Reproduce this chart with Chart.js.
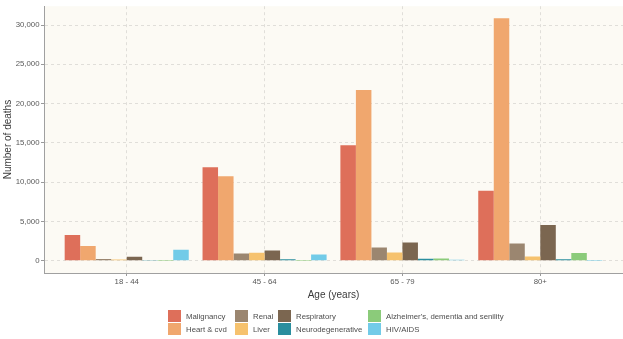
<!DOCTYPE html>
<html>
<head>
<meta charset="utf-8">
<script src="https://cdn.jsdelivr.net/npm/chart.js@4/dist/chart.umd.min.js"></script>
<style>
  html, body { margin:0; padding:0; background:#fff; }
  #wrap { position:relative; width:623px; height:339px; font-family:"Liberation Sans", Arial, sans-serif; }
  #chart { position:absolute; left:0; top:0; }
  #legend {
    position:absolute; left:168px; top:309.5px;
    display:grid; grid-auto-flow:column;
    grid-template-rows:13px 13px;
    grid-template-columns:67px 43px 90px auto;
    font-size:7.8px; color:#4d4d4d;
  }
  .item { display:flex; align-items:center; white-space:nowrap; }
  .sw { width:12.5px; height:12.5px; margin-right:5.5px; }
</style>
</head>
<body>
<div id="wrap">
  <canvas id="chart" width="623" height="339"></canvas>
  <div id="legend"></div>
</div>
<script>
// --- DATI ---
const ageGroups = ["18 - 44", "45 - 64", "65 - 79", "80+"];
const causes = ["Malignancy", "Heart & cvd", "Renal", "Liver", "Respiratory",
                "Neurodegenerative", "Alzheimer's, dementia and senility", "HIV/AIDS"];
const colors = ["#de6f5a", "#f0a76e", "#9b8670", "#f6c26e", "#7b6650", "#2a8e9e", "#8bcb7a", "#72cbe8"];

const malignancy = [3300, 11900, 14700, 8900];
const heartCvd = [1880, 10750, 21750, 30850];
const renal = [230, 925, 1680, 2200];
const liver = [180, 1040, 1060, 550];
const respiratory = [520, 1300, 2340, 4550];
const neuro = [90, 210, 250, 200];
const alzheimer = [10, 10, 300, 1000];
const hiv = [1420, 800, 150, 20];

const seriesValues = [malignancy, heartCvd, renal, liver, respiratory, neuro, alzheimer, hiv];
const yTicks = [0, 5000, 10000, 15000, 20000, 25000, 30000];

// --- SFONDO AREA GRAFICO ---
const panelBg = {
  id: "panelBg",
  beforeDraw(chart) {
    const {ctx, chartArea: a} = chart;
    ctx.save();
    ctx.fillStyle = "#fcfaf4";
    ctx.fillRect(a.left, a.top, a.right - a.left, a.bottom - a.top);
    ctx.restore();
  }
};

const datasets = causes.map((c, k) => ({
  label: c,
  data: ageGroups.map((_, i) => ({x: i, y: seriesValues[k][i]})),
  backgroundColor: colors[k],
  borderWidth: 0,
  categoryPercentage: 0.9,
  barPercentage: 1.0
}));

new Chart(document.getElementById("chart"), {
  type: "bar",
  data: { datasets },
  plugins: [panelBg],
  options: {
    responsive: false,
    animation: false,
    layout: { padding: { left: 0, right: 0, top: 0, bottom: 36 } },
    plugins: { legend: { display: false }, tooltip: { enabled: false } },
    scales: {
      x: {
        type: "linear",
        min: -0.6, max: 3.6,
        offset: false,
        afterBuildTicks: s => { s.ticks = ageGroups.map((_, i) => ({value: i})); },
        afterFit: s => { s.height = 30; },
        ticks: {
          autoSkip: false, maxRotation: 0, padding: 1,
          color: "#595959",
          font: { family: "Liberation Sans", size: 7.8 },
          callback: v => ageGroups[v]
        },
        grid: { offset: false, color: "rgba(0,0,0,0.11)", tickLength: 3, tickColor: "#999", tickBorderDash: [1, 0] },
        border: { color: "#a0a0a0", width: 1, dash: [3, 3] },
        title: {
          display: true, text: "Age (years)", color: "#3a3a3a",
          font: { family: "Liberation Sans", size: 10 },
          padding: { top: 0, bottom: 2 }
        }
      },
      y: {
        min: -1550, max: 32400,
        afterBuildTicks: s => { s.ticks = yTicks.map(v => ({value: v})); },
        afterFit: s => { s.width = 44; },
        ticks: {
          padding: 1.5, color: "#595959",
          font: { family: "Liberation Sans", size: 7.8 },
          callback: v => v.toLocaleString("en-US")
        },
        grid: { color: "rgba(0,0,0,0.11)", tickLength: 3, tickColor: "#999", tickBorderDash: [1, 0] },
        border: { color: "#a0a0a0", width: 1, dash: [3, 3] },
        title: {
          display: true, text: "Number of deaths", color: "#3a3a3a",
          font: { family: "Liberation Sans", size: 10 },
          padding: { top: 2, bottom: 0 }
        }
      }
    }
  }
});

// --- LEGENDA ---
const legend = document.getElementById("legend");
causes.forEach((c, k) => {
  const it = document.createElement("div");
  it.className = "item";
  it.innerHTML = `<span class="sw" style="background:${colors[k]}"></span><span>${c}</span>`;
  legend.appendChild(it);
});
</script>
</body>
</html>
